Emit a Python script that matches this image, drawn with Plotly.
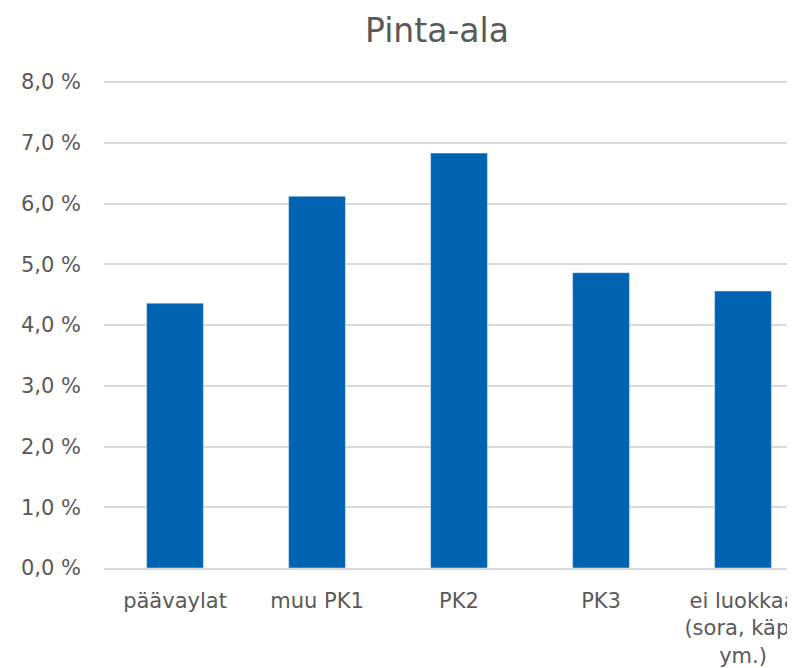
import plotly.graph_objects as go

categories = ["päävaylat", "muu PK1", "PK2", "PK3", "ei luokkaa<br>(sora, käpy<br>ym.)"]
values = [4.36, 6.12, 6.83, 4.86, 4.56]
tick_vals = [0, 1, 2, 3, 4, 5, 6, 7, 8]
tick_text = ["0,0 %", "1,0 %", "2,0 %", "3,0 %", "4,0 %", "5,0 %", "6,0 %", "7,0 %", "8,0 %"]

fig = go.Figure(
    go.Bar(
        x=list(range(len(categories))),
        y=values,
        marker_color="#0063B1",
        width=0.4,
        showlegend=False,
    )
)

# page body has an 8px margin, so the figure is sized/offset to fill the window
fig.update_layout(
    width=787,
    height=660,
    margin=dict(l=96, r=0, t=71, b=100),
    paper_bgcolor="white",
    plot_bgcolor="white",
    font=dict(family="DejaVu Sans", size=21, color="#595959"),
    title=dict(
        text="Pinta-ala",
        x=429 / 787,
        y=1 - 22 / 660,
        xref="container",
        yref="container",
        xanchor="center",
        yanchor="middle",
        font=dict(size=33, color="#595959"),
    ),
)
fig.update_xaxes(
    tickmode="array",
    tickvals=list(range(len(categories))),
    ticktext=categories,
    range=[-0.5, 4.366],
    showgrid=False,
    showline=True,
    linecolor="#d9d9d9",
    linewidth=1.5,
    ticks="",
    ticklabelstandoff=13,
    ticklabeloverflow="allow",
    automargin=False,
)
fig.update_yaxes(
    range=[0, 8.05],
    tickvals=tick_vals,
    ticktext=tick_text,
    showgrid=True,
    gridcolor="#d9d9d9",
    gridwidth=1.5,
    zeroline=False,
    ticks="",
    ticklabelstandoff=22,
    automargin=False,
)

fig.write_html("out.html")
